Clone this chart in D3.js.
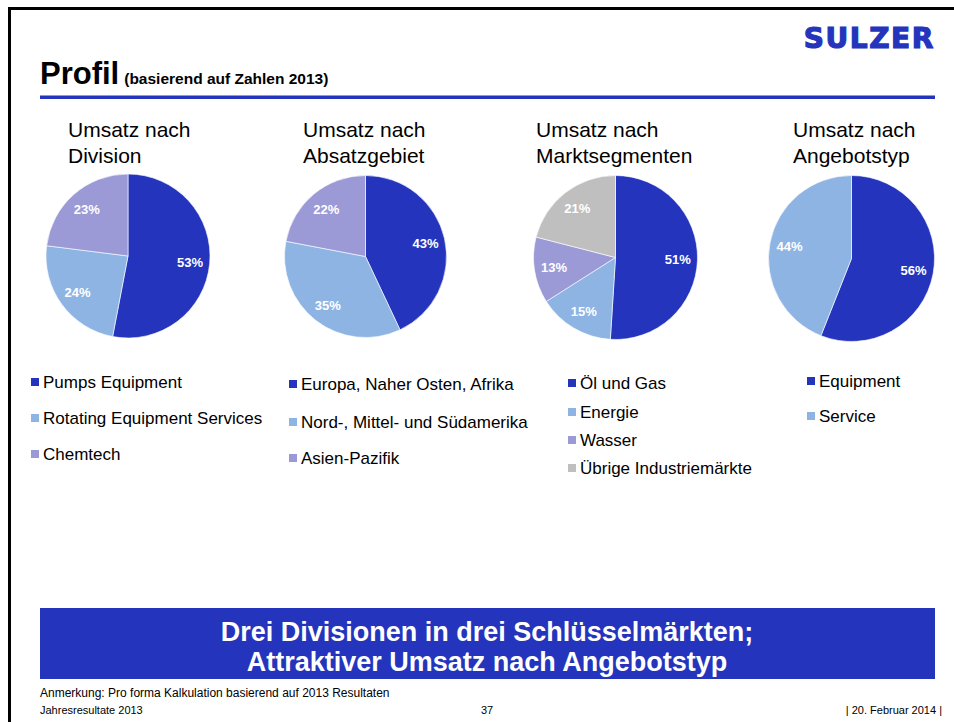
<!DOCTYPE html>
<html>
<head>
<meta charset="utf-8">
<script src="https://cdn.jsdelivr.net/npm/d3@7"></script>
<style>
  body { margin: 0; background: #fff; }
  svg { display: block; font-family: Arial, "Liberation Sans", sans-serif; }
</style>
</head>
<body>
<svg id="chart" width="954" height="722"></svg>
<script>
// data
const divisionLabels = ['Pumps Equipment', 'Rotating Equipment Services', 'Chemtech'];
const divisionValues = [53, 24, 23];

const regionLabels = ['Europa, Naher Osten, Afrika', 'Nord-, Mittel- und Südamerika', 'Asien-Pazifik'];
const regionValues = [43, 35, 22];

const segmentLabels = ['Öl und Gas', 'Energie', 'Wasser', 'Übrige Industriemärkte'];
const segmentValues = [51, 15, 13, 21];

const offerLabels = ['Equipment', 'Service'];
const offerValues = [56, 44];

const sliceColors = ['#2434bc', '#8eb4e3', '#9c9ad6', '#bfbfbf'];
const blue = '#2434bc';

const pies = [
    {title: ['Umsatz nach', 'Division'], labels: divisionLabels, values: divisionValues,
     cx: 128, cy: 256, r: 82, tx: 68, lx: 31, legendY: [388, 424, 460]},
    {title: ['Umsatz nach', 'Absatzgebiet'], labels: regionLabels, values: regionValues,
     cx: 365.5, cy: 256.5, r: 81, tx: 303, lx: 289, legendY: [390, 428, 464]},
    {title: ['Umsatz nach', 'Marktsegmenten'], labels: segmentLabels, values: segmentValues,
     cx: 615.5, cy: 257.5, r: 82, tx: 536, lx: 568, legendY: [389, 418, 446, 474]},
    {title: ['Umsatz nach', 'Angebotstyp'], labels: offerLabels, values: offerValues,
     cx: 851.5, cy: 258.5, r: 83, tx: 793, lx: 807, legendY: [387, 422]}
];

const svg = d3.select('#chart');

// frame lines (top + left)
svg.append('line').attr('x1', 8).attr('x2', 954).attr('y1', 8.5).attr('y2', 8.5)
    .attr('stroke', '#000').attr('stroke-width', 3);
svg.append('line').attr('x1', 9.5).attr('x2', 9.5).attr('y1', 7).attr('y2', 722)
    .attr('stroke', '#000').attr('stroke-width', 3);

// header
svg.append('text').attr('x', 935).attr('y', 48).attr('text-anchor', 'end')
    .attr('font-family', '"DejaVu Sans", sans-serif').attr('font-weight', 'bold')
    .attr('font-size', 28).attr('letter-spacing', 1.6).attr('fill', blue)
    .attr('stroke', blue).attr('stroke-width', 1.2)
    .text('SULZER');

const head = svg.append('text').attr('x', 40).attr('y', 84).attr('font-weight', 'bold');
head.append('tspan').attr('font-size', 31).text('Profil');
head.append('tspan').attr('font-size', 15.5).attr('dx', 5).text('(basierend auf Zahlen 2013)');

svg.append('rect').attr('x', 40).attr('y', 95.5).attr('width', 895).attr('height', 3.5).attr('fill', blue);

// pies
const pie = d3.pie().sort(null).value(d => d);

pies.forEach(p => {
    let g = svg.append('g').attr('transform', 'translate(' + p.cx + ',' + p.cy + ')');
    let arc = d3.arc().innerRadius(0).outerRadius(p.r);
    let labelArc = d3.arc().innerRadius(p.r * 0.76).outerRadius(p.r * 0.76);
    let arcs = pie(p.values);

    g.selectAll('path')
        .data(arcs)
        .enter()
        .append('path')
        .attr('d', arc)
        .attr('fill', (d, i) => sliceColors[i])
        .attr('stroke', '#fff')
        .attr('stroke-width', 0.6);

    g.selectAll('text.pct')
        .data(arcs)
        .enter()
        .append('text')
        .attr('class', 'pct')
        .attr('transform', d => 'translate(' + labelArc.centroid(d) + ')')
        .attr('text-anchor', 'middle')
        .attr('dy', '0.36em')
        .attr('font-size', 13)
        .attr('font-weight', 'bold')
        .attr('fill', '#fff')
        .text(d => d.data + '%');

    // title
    p.title.forEach((t, i) => {
        svg.append('text').attr('x', p.tx).attr('y', 137 + i * 26)
            .attr('font-size', 21).attr('fill', '#000').text(t);
    });

    // legend
    let leg = svg.append('g');
    p.labels.forEach((lab, i) => {
        leg.append('rect').attr('x', p.lx).attr('y', p.legendY[i] - 10)
            .attr('width', 8).attr('height', 8).attr('fill', sliceColors[i]);
        leg.append('text').attr('x', p.lx + 12).attr('y', p.legendY[i])
            .attr('font-size', 17).attr('fill', '#000').text(lab);
    });
});

// banner
svg.append('rect').attr('x', 40).attr('y', 608).attr('width', 895).attr('height', 71).attr('fill', blue);
['Drei Divisionen in drei Schlüsselmärkten;', 'Attraktiver Umsatz nach Angebotstyp'].forEach((t, i) => {
    svg.append('text').attr('x', 487).attr('y', 641 + i * 30)
        .attr('text-anchor', 'middle').attr('font-size', 27).attr('font-weight', 'bold')
        .attr('fill', '#fff').text(t);
});

// footer
svg.append('text').attr('x', 40).attr('y', 697).attr('font-size', 12).text('Anmerkung: Pro forma Kalkulation basierend auf 2013 Resultaten');
svg.append('text').attr('x', 40).attr('y', 714).attr('font-size', 11).text('Jahresresultate 2013');
svg.append('text').attr('x', 487).attr('y', 714).attr('font-size', 11).attr('text-anchor', 'middle').text('37');
svg.append('text').attr('x', 942).attr('y', 714).attr('font-size', 11).attr('text-anchor', 'end').text('| 20. Februar 2014 |');
</script>
</body>
</html>
